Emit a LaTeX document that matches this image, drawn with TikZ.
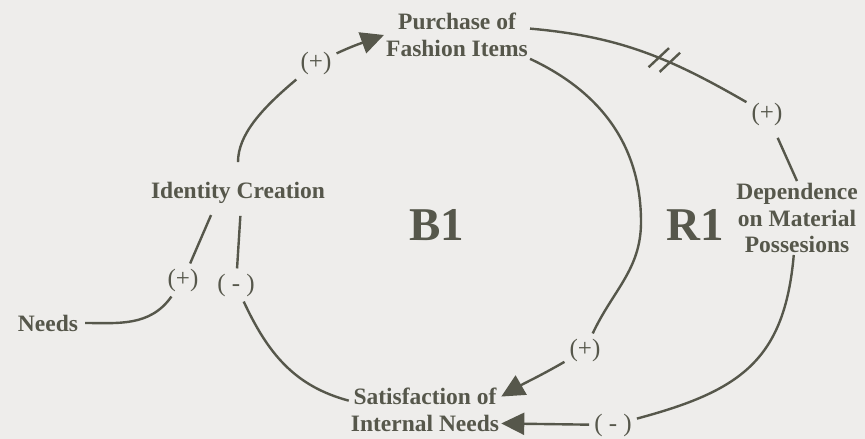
\documentclass[tikz,border=0pt]{standalone}
\usepackage{fontspec}
\setmainfont{Liberation Serif}
\usetikzlibrary{arrows.meta}
\usetikzlibrary{decorations.markings}
\definecolor{loopgrey}{RGB}{86,87,75}
\definecolor{paper}{RGB}{238,237,235}

\begin{document}
\begin{tikzpicture}[x=1pt, y=1pt,
    var/.style={text=loopgrey, font=\fontsize{23.5}{26.5}\selectfont\bfseries, align=center, inner sep=2pt},
    sign/.style={text=loopgrey, font=\fontsize{25}{26}\selectfont, inner sep=5pt},
    loopname/.style={text=loopgrey, font=\fontsize{47}{50}\selectfont\bfseries},
    link/.style={draw=loopgrey, line width=2.4pt},
    tip/.style={-{Triangle[length=23pt,width=22pt]}},
    delay/.style={postaction={decorate, decoration={markings, mark=at position #1 with {
        \draw[loopgrey, line width=2.4pt] (-11.7pt,-12.8pt) -- (-0.3pt,12.8pt);
        \draw[loopgrey, line width=2.4pt] (0.3pt,-12.8pt) -- (11.7pt,12.8pt);}}}}]

    \fill[paper] (0,0) rectangle (865,-439);
    \useasboundingbox (0,0) rectangle (865,-439);

    \node[var] at (457,-35) (purchase) {Purchase of\\Fashion Items};
    \node[var] at (238,-193) (identity) {Identity Creation};
    \node[var] at (797,-218) (dependence) {Dependence\\on Material\\Possesions};
    \node[var] at (425,-410) (satisfaction) {Satisfaction of\\Internal Needs};
    \node[var] at (48,-323) (needs) {Needs};
    \node[loopname] at (437,-225) (b1) {B1};
    \node[loopname] at (695,-225) (r1) {R1};

    \node[sign] at (316,-63) (sPI) {(+)};
    \node[sign] at (585,-350) (sPS) {(+)};
    \node[sign] at (767,-114) (sPD) {(+)};
    \node[sign] at (613,-425) (sDS) {( - )};
    \node[sign] at (236,-285) (sIS) {( - )};
    \node[sign] at (183,-280) (sIN) {(+)};

    \coordinate (bend) at (641,-222);

    \draw[link, shorten <=18pt] (identity.north) to[out=90,in=220] (sPI);
    \draw[link, tip] (sPI) to[out=25,in=200] (purchase.west);

    \draw[link] (purchase.south east) to[out=-25,in=90] (bend) to[out=-90,in=65] (sPS);
    \draw[link, tip] (sPS) to[out=-150,in=30] (satisfaction.10);

    \draw[link, delay=0.6] (purchase.5) to[out=-5,in=150] (sPD);
    \draw[link, shorten <=8pt] (sPD) -- (dependence.north);

    \draw[link] (dependence) to[out=-95,in=15,looseness=1.2] (sDS);
    \draw[link, tip] (sDS) -- (satisfaction.-10);

    \draw[link, shorten <=10pt] ([xshift=3pt]identity.south) -- (sIS);
    \draw[link] (sIS) to[out=-65,in=165] (satisfaction.173);

    \draw[link, shorten <=10pt] ([xshift=-23pt]identity.south) -- (sIN);
    \draw[link, shorten >=5pt] (sIN) to[out=-125,in=0] (needs);

\end{tikzpicture}
\end{document}
